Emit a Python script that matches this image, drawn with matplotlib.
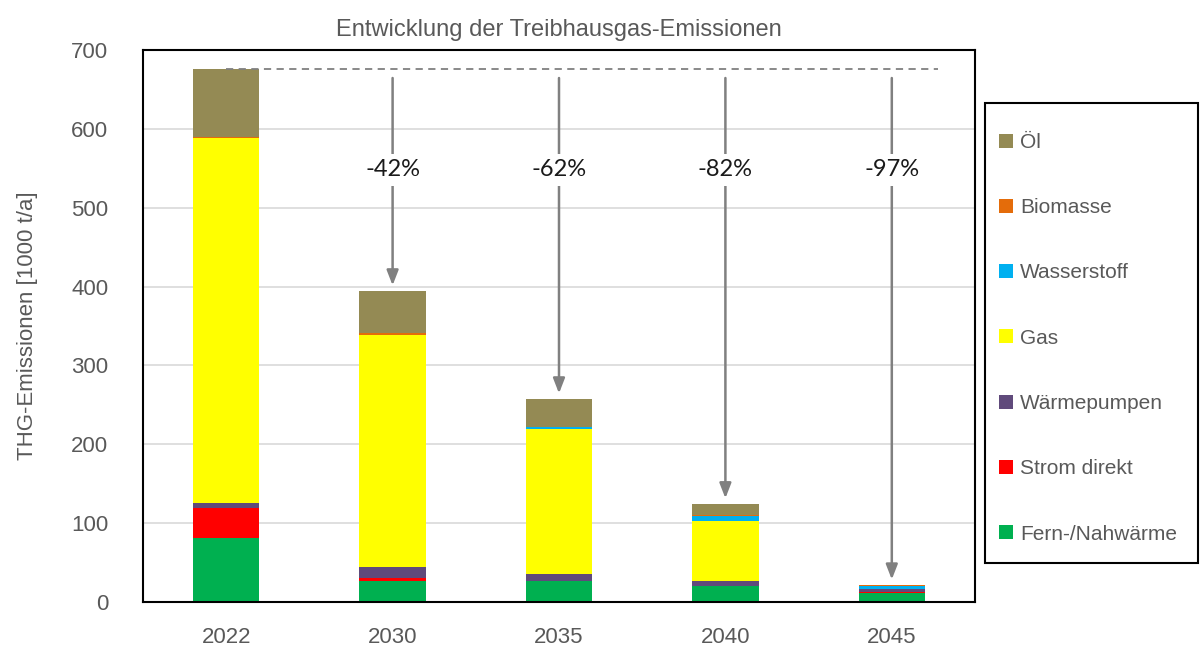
import numpy as np
import matplotlib.pyplot as plt
from matplotlib.patches import Rectangle

years = ['2022', '2030', '2035', '2040', '2045']
fern = [81, 27, 26, 20, 12]
strom = [38, 4, 1, 0.5, 0.3]
waermepumpen = [7, 14, 8, 5.5, 4]
gas = [463, 294, 185, 77, 0]
wasserstoff = [0, 0, 1.5, 6, 4]
biomasse = [1, 2, 1, 1, 0.7]
oel = [86, 53, 34.5, 14, 0]
reduction_labels = ['', '-42%', '-62%', '-82%', '-97%']

series = [('Fern-/Nahwärme', fern, '#00B050'),
          ('Strom direkt', strom, '#FF0000'),
          ('Wärmepumpen', waermepumpen, '#604A7B'),
          ('Gas', gas, '#FFFF00'),
          ('Wasserstoff', wasserstoff, '#00B0F0'),
          ('Biomasse', biomasse, '#E46C0A'),
          ('Öl', oel, '#948A54')]

plt.rcParams['font.family'] = ['Liberation Sans', 'DejaVu Sans']
grey = '#595959'

fig = plt.figure(figsize=(12, 6.49), dpi=100)
ax = fig.add_axes([143/1200, 47/649, 832/1200, 552/649])

x = np.arange(len(years))
bottom = np.zeros(len(years))
handles = []
for name, vals, col in series:
    vals = np.array(vals, dtype=float)
    b = ax.bar(x, vals, 0.4, bottom=bottom, color=col, label=name, zorder=2)
    handles.append(b)
    bottom += vals
totals = bottom

ax.set_xlim(-0.5, 4.5)
ax.set_ylim(0, 700)
ax.set_yticks(range(0, 701, 100))
ax.set_xticks(x)
ax.set_xticklabels(years)
ax.tick_params(axis='both', length=0, labelsize=16, colors=grey)
ax.tick_params(axis='y', pad=25)
ax.tick_params(axis='x', pad=18)
ax.yaxis.grid(True, color='#D9D9D9', lw=1.2, zorder=0)
ax.set_axisbelow(True)
for s in ax.spines.values():
    s.set_color('black')
    s.set_linewidth(1.5)
ax.set_ylabel('THG-Emissionen [1000 t/a]', fontsize=16, color=grey, labelpad=24)
ax.set_title('Entwicklung der Treibhausgas-Emissionen', fontsize=17, color=grey, pad=10)

# reference line at 2022 level and reduction arrows
ref = totals[0]
ax.plot([0, 4.28], [ref, ref], ls=(0, (4, 3)), color='#808080', lw=1.3, zorder=3)
for i in range(1, len(years)):
    ax.annotate('', xy=(x[i], totals[i] + 4), xytext=(x[i], ref - 8),
                arrowprops=dict(arrowstyle='-|>,head_width=0.35,head_length=0.9',
                                color='#808080', lw=1.8), zorder=3)
    ax.text(x[i], 548, reduction_labels[i], ha='center', va='center', fontsize=17,
            family=['Lato', 'DejaVu Sans'], color='#1a1a1a', zorder=4,
            bbox=dict(facecolor='white', edgecolor='none', pad=4))

# legend box drawn separately so the entries can sit where the reference has them
fig.patches.append(Rectangle((985/1200, 1 - 563/649), 213/1200, 460/649,
                             transform=fig.transFigure, fill=False,
                             edgecolor='black', lw=1.5))
leg = fig.legend(handles[::-1], [s[0] for s in series][::-1], loc='upper left',
                 bbox_to_anchor=(999/1200, 1 - 133/649), fontsize=15,
                 frameon=False, handlelength=0.65, handleheight=0.65,
                 handletextpad=0.35, labelspacing=2.22, borderpad=0,
                 borderaxespad=0)
for t in leg.get_texts():
    t.set_color(grey)

fig.savefig('out.png', dpi=100)
